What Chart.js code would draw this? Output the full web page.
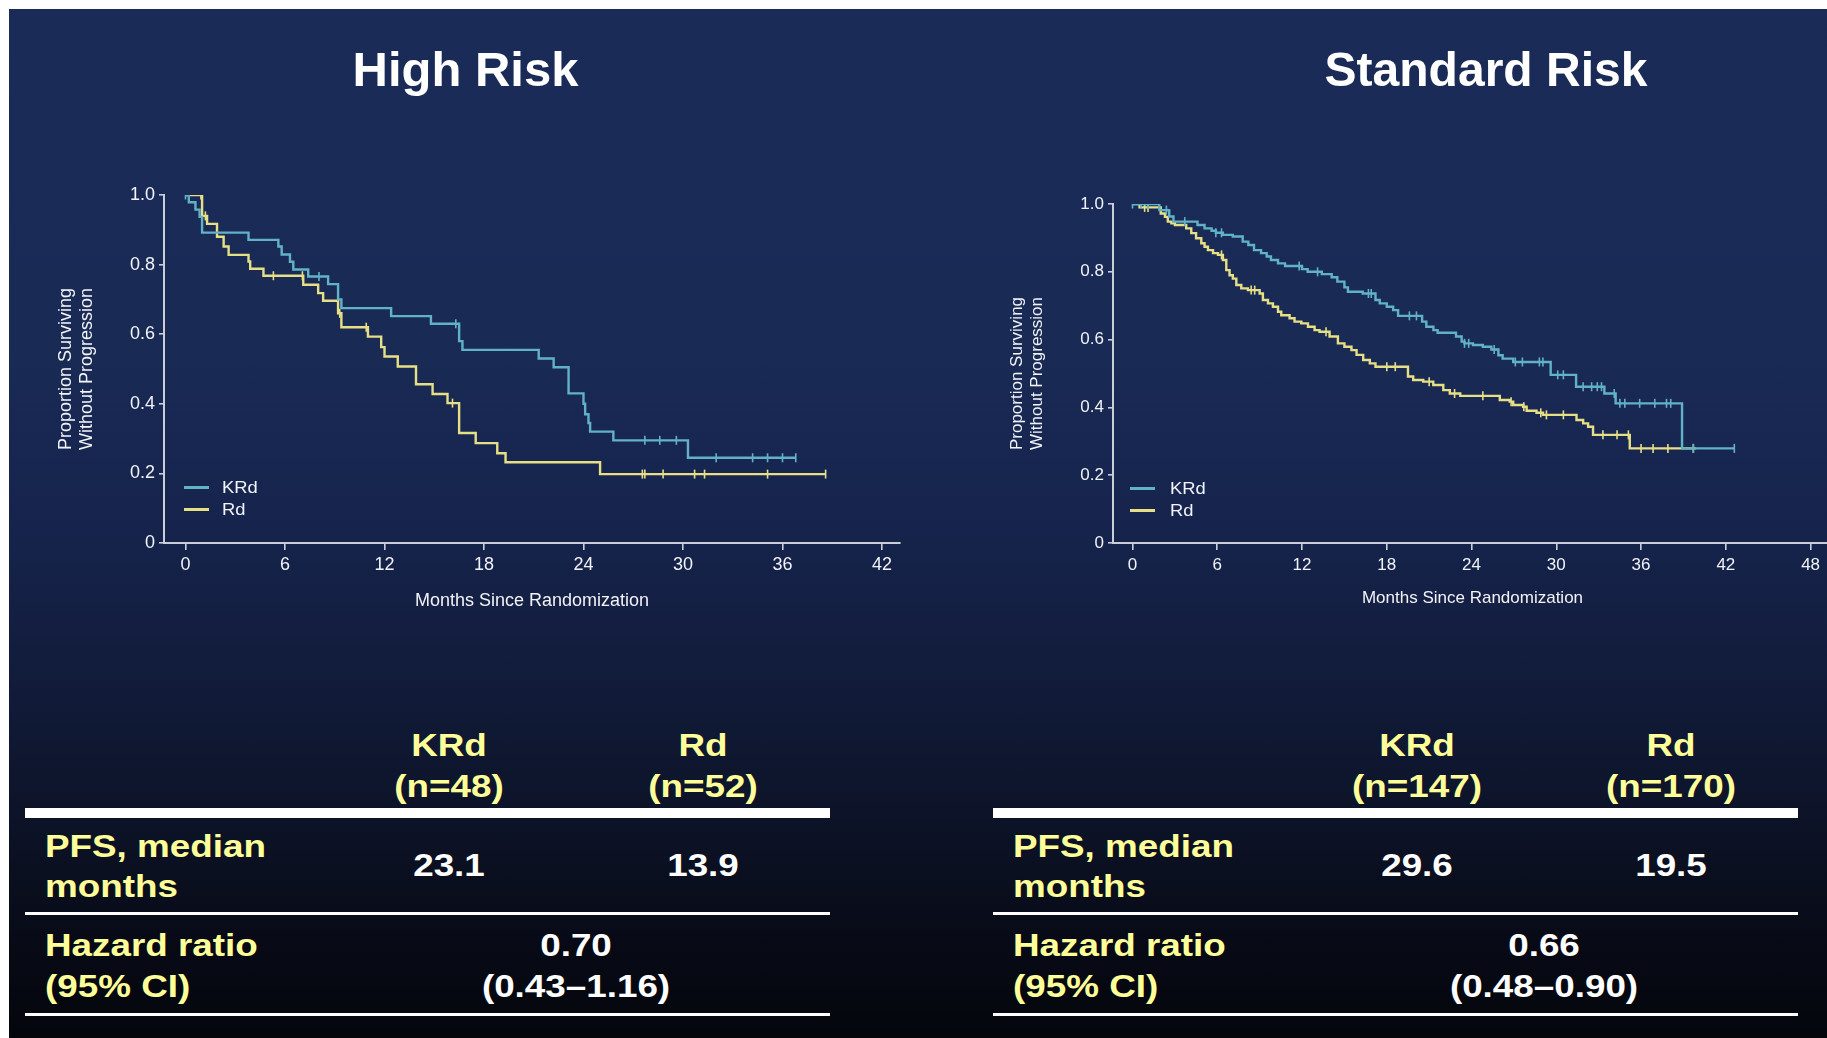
<!DOCTYPE html>
<html>
<head>
<meta charset="utf-8">
<script src="https://cdn.jsdelivr.net/npm/chart.js@4.4.1/dist/chart.umd.min.js"></script>
<style>
  html, body { margin: 0; padding: 0; width: 1827px; height: 1038px; overflow: hidden; background: #ffffff; }
  #slide { position: absolute; left: 9px; top: 9px; width: 1818px; height: 1029px;
    background: linear-gradient(to bottom, #1b2b58 0%, #192a55 34%, #16244d 50%, #121c3c 64%, #0d1429 78%, #080b17 90%, #04060c 100%); }
  .txt { position: absolute; font-family: "Liberation Sans", Arial, sans-serif; white-space: nowrap; line-height: 1; }
  .rule { position: absolute; background: #ffffff; }
  canvas { position: absolute; }
</style>
</head>
<body>
<div id="slide"></div>
<canvas id="kmHigh" width="880" height="470" style="left:40px;top:150px;"></canvas>
<canvas id="kmStd" width="850" height="470" style="left:990px;top:150px;"></canvas>
<div id="overlay"></div>
<script>
// ---- Kaplan–Meier curves: months since randomization / proportion progression-free ----
// High risk, KRd
const highKRdT = [0, 0.2, 0.6, 0.85, 1.0, 3.8, 5.6, 5.8, 6.3, 6.5, 7.4, 8.6, 9.2, 9.4, 12.4, 14.8, 16.5, 16.7, 21.3, 22.2, 23.1, 24.0, 24.1, 24.3, 24.4, 25.8, 30.3, 36.8];
const highKRdS = [1.0, 0.979, 0.958, 0.937, 0.892, 0.871, 0.852, 0.829, 0.808, 0.786, 0.766, 0.744, 0.70, 0.675, 0.652, 0.63, 0.58, 0.555, 0.53, 0.505, 0.43, 0.40, 0.37, 0.345, 0.32, 0.295, 0.245, 0.245];
const highKRdCensor = [0, 8.05, 16.3, 27.7, 28.6, 29.6, 32.0, 34.2, 35.1, 36.0, 36.8];
// High risk, Rd
const highRdT = [0, 1.0, 1.3, 1.9, 2.3, 2.6, 3.8, 3.9, 4.7, 7.1, 8.0, 8.3, 9.2, 9.4, 11.0, 11.8, 12.0, 12.8, 13.9, 14.9, 15.8, 16.5, 17.5, 18.8, 19.3, 25.0, 38.6];
const highRdS = [1.0, 0.94, 0.917, 0.88, 0.852, 0.828, 0.809, 0.788, 0.768, 0.742, 0.718, 0.696, 0.66, 0.62, 0.593, 0.563, 0.536, 0.507, 0.456, 0.428, 0.402, 0.316, 0.287, 0.258, 0.232, 0.198, 0.198];
const highRdCensor = [0.93, 1.2, 5.3, 7.05, 9.3, 10.9, 16.1, 27.55, 27.7, 28.8, 30.7, 31.3, 35.1, 38.6];
// Standard risk, KRd
const stdKRdT = [0, 1.9, 2.6, 2.9, 4.6, 5.1, 5.6, 5.9, 6.4, 7.1, 7.8, 8.2, 8.6, 9.1, 9.5, 9.8, 10.3, 10.8, 12.0, 12.4, 13.4, 14.1, 14.5, 15.0, 15.25, 16.3, 17.2, 17.5, 18.0, 18.45, 18.8, 20.5, 20.8, 21.3, 21.6, 22.9, 23.3, 23.5, 24.1, 24.8, 25.4, 25.9, 26.2, 26.95, 29.6, 31.4, 33.4, 34.2, 38.9, 42.6];
const stdKRdS = [1.0, 0.982, 0.963, 0.948, 0.938, 0.928, 0.921, 0.915, 0.909, 0.904, 0.889, 0.879, 0.864, 0.855, 0.845, 0.835, 0.825, 0.817, 0.808, 0.80, 0.793, 0.784, 0.771, 0.754, 0.741, 0.736, 0.717, 0.707, 0.697, 0.687, 0.670, 0.653, 0.638, 0.628, 0.620, 0.609, 0.594, 0.589, 0.584, 0.579, 0.571, 0.554, 0.544, 0.534, 0.496, 0.461, 0.441, 0.412, 0.279, 0.279];
const stdKRdCensor = [0, 0.6, 1.1, 2.4, 3.7, 5.9, 6.3, 11.8, 13.1, 16.7, 16.9, 19.6, 20.1, 23.5, 23.8, 25.6, 27.1, 27.6, 28.8, 29.05, 30.1, 30.5, 31.9, 32.5, 32.9, 33.2, 34.1, 34.5, 34.85, 35.9, 36.97, 37.8, 38.1, 39.7, 42.6];
// Standard risk, Rd
const stdRdT = [0, 0.5, 2.0, 2.3, 2.5, 2.75, 3.0, 3.8, 4.16, 4.5, 4.87, 5.1, 5.34, 5.7, 6.05, 6.4, 6.64, 6.87, 7.1, 7.35, 7.7, 8.17, 9.0, 9.23, 9.59, 9.94, 10.3, 10.53, 11.12, 11.47, 11.95, 12.42, 12.89, 13.24, 13.95, 14.54, 15.0, 15.5, 15.86, 16.33, 16.8, 17.2, 19.5, 19.87, 20.58, 21.29, 22.0, 22.46, 23.2, 26.0, 26.7, 26.95, 27.65, 27.9, 28.6, 29.06, 31.43, 31.9, 32.25, 32.6, 35.2, 39.9];
const stdRdS = [1.0, 0.99, 0.972, 0.962, 0.948, 0.943, 0.938, 0.928, 0.914, 0.899, 0.884, 0.874, 0.864, 0.855, 0.85, 0.835, 0.805, 0.79, 0.78, 0.761, 0.751, 0.746, 0.736, 0.717, 0.707, 0.697, 0.682, 0.672, 0.663, 0.653, 0.648, 0.638, 0.628, 0.623, 0.609, 0.589, 0.579, 0.569, 0.555, 0.54, 0.53, 0.52, 0.491, 0.481, 0.476, 0.466, 0.451, 0.441, 0.434, 0.422, 0.417, 0.407, 0.402, 0.39, 0.384, 0.378, 0.363, 0.353, 0.343, 0.319, 0.279, 0.279];
const stdRdCensor = [0.86, 1.1, 6.3, 8.4, 8.65, 13.7, 18.0, 18.6, 21.0, 22.8, 24.8, 26.8, 27.7, 28.9, 29.3, 30.5, 33.3, 34.3, 35.1, 36.0, 36.85, 37.9, 39.7];

// ---- axis ticks and text ----
const xTicksHigh = [0, 6, 12, 18, 24, 30, 36, 42];
const xTicksStd = [0, 6, 12, 18, 24, 30, 36, 42, 48];
const yTicks = [0, 0.2, 0.4, 0.6, 0.8, 1.0];
const panelTitles = ['High Risk', 'Standard Risk'];
const armNames = ['KRd', 'Rd'];
const xAxisTitle = 'Months Since Randomization';
const yAxisTitle = ['Proportion Surviving', 'Without Progression'];

// ---- summary tables ----
const rowLabels = [['PFS, median', 'months'], ['Hazard ratio', '(95% CI)']];
const highN = ['(n=48)', '(n=52)'];
const stdN = ['(n=147)', '(n=170)'];
const highMedian = ['23.1', '13.9'];
const stdMedian = ['29.6', '19.5'];
const highHR = ['0.70', '(0.43–1.16)'];
const stdHR = ['0.66', '(0.48–0.90)'];

const TEAL = '#62b2c6';
const YELLOW = '#e6df86';
const AXIS = '#c9ced9';
const LABEL = '#f2f3f6';
const FONT = '"Liberation Sans", Arial, sans-serif';
Chart.defaults.font.family = FONT;

function survAt(T, S, t) {
  let v = S[0];
  for (let i = 0; i < T.length; i++) { if (T[i] <= t) v = S[i]; }
  return v;
}

function kmChart(id, o) {
  const datasets = [];
  o.arms.forEach(a => {
    datasets.push({
      label: a.name,
      data: a.T.map((t, i) => ({ x: t, y: a.S[i] })),
      borderColor: a.color, borderWidth: 2.4, pointRadius: 0,
      stepped: 'before', fill: false
    });
    datasets.push({
      label: a.name + ' censored',
      data: a.C.map(t => ({ x: t, y: survAt(a.T, a.S, t) })),
      showLine: false, borderColor: a.color, backgroundColor: a.color,
      pointStyle: 'line', rotation: 90, pointRadius: 4.5, borderWidth: 1.6
    });
  });
  const tickFont = { family: FONT, size: o.fs, lineHeight: o.lh };
  return new Chart(document.getElementById(id), {
    type: 'line',
    data: { datasets },
    options: {
      responsive: false, animation: false, devicePixelRatio: 1, events: [],
      layout: { padding: o.pad },
      plugins: { legend: { display: false }, tooltip: { enabled: false } },
      scales: {
        x: {
          type: 'linear', min: o.xMin, max: o.xMax,
          afterBuildTicks: s => { s.ticks = o.xTicks.map(v => ({ value: v })); },
          afterFit: s => { s.height = o.xH; },
          grid: { drawOnChartArea: false, drawTicks: true, tickLength: 7, color: AXIS, lineWidth: 1.6 },
          border: { display: true, color: AXIS, width: 2 },
          ticks: { color: LABEL, font: tickFont, padding: o.xTickPad, maxRotation: 0, autoSkip: false },
          title: { display: true, text: xAxisTitle, color: LABEL, font: tickFont, padding: { top: 0, bottom: o.xTitlePad } }
        },
        y: {
          type: 'linear', min: 0, max: 1,
          afterBuildTicks: s => { s.ticks = yTicks.map(v => ({ value: v })); },
          afterFit: s => { s.width = o.yW; },
          grid: { drawOnChartArea: false, drawTicks: true, tickLength: 5, color: AXIS, lineWidth: 1.6 },
          border: { display: true, color: AXIS, width: 2 },
          ticks: { color: LABEL, font: tickFont, padding: 4, callback: v => (v === 0 ? '0' : v.toFixed(1)) },
          title: { display: true, text: yAxisTitle, color: LABEL, font: tickFont, padding: { top: o.yTitlePad, bottom: 0 } }
        }
      }
    }
  });
}

kmChart('kmHigh', {
  arms: [
    { name: armNames[0], T: highKRdT, S: highKRdS, C: highKRdCensor, color: TEAL },
    { name: armNames[1], T: highRdT, S: highRdS, C: highRdCensor, color: YELLOW }
  ],
  xTicks: xTicksHigh, xMin: -1.2965, xMax: 43.086,
  pad: { top: 45, right: 20, left: 0, bottom: 0 },
  yW: 124, xH: 77, fs: 18, lh: 1.17, xTickPad: 4.5, xTitlePad: 8.5, yTitlePad: 15.5
});

kmChart('kmStd', {
  arms: [
    { name: armNames[0], T: stdKRdT, S: stdKRdS, C: stdKRdCensor, color: TEAL },
    { name: armNames[1], T: stdRdT, S: stdRdS, C: stdRdCensor, color: YELLOW }
  ],
  xTicks: xTicksStd, xMin: -1.380, xMax: 49.515,
  pad: { top: 54, right: 8, left: 0, bottom: 0 },
  yW: 123, xH: 77, fs: 17, lh: 1.2, xTickPad: 4.8, xTitlePad: 11.8, yTitlePad: 16.8
});

// ---- text overlays: panel titles, legends and summary tables ----
const overlay = document.getElementById('overlay');
function text(str, x, baseline, size, color, opts) {
  opts = opts || {};
  const d = document.createElement('div');
  d.className = 'txt';
  d.textContent = str;
  d.style.fontSize = size + 'px';
  d.style.color = color;
  d.style.fontWeight = opts.bold ? 'bold' : 'normal';
  d.style.left = x + 'px';
  d.style.top = (baseline - 0.8465 * size) + 'px';
  const sx = opts.sx || 1;
  if (opts.center) {
    d.style.transform = 'translateX(-50%) scaleX(' + sx + ')';
  } else {
    d.style.transformOrigin = '0 0';
    d.style.transform = 'scaleX(' + sx + ')';
  }
  overlay.appendChild(d);
}
function rule(x, y, w, h) {
  const d = document.createElement('div');
  d.className = 'rule';
  Object.assign(d.style, { left: x + 'px', top: y + 'px', width: w + 'px', height: h + 'px' });
  overlay.appendChild(d);
}
function swatch(x, y, w, color) {
  const d = document.createElement('div');
  Object.assign(d.style, { position: 'absolute', left: x + 'px', top: (y - 1.5) + 'px', width: w + 'px', height: '3px', background: color });
  overlay.appendChild(d);
}

// panel titles
text(panelTitles[0], 465.5, 86, 49, '#ffffff', { bold: true, center: true });
text(panelTitles[1], 1486, 86, 49, '#ffffff', { bold: true, center: true, sx: 0.98 });

// legends inside each plot
function legend(lineX, textX, y1, y2, size) {
  swatch(lineX, y1, 25, TEAL);
  swatch(lineX, y2, 25, YELLOW);
  text(armNames[0], textX, y1 + 0.358 * size, size, LABEL, { sx: 1.08 });
  text(armNames[1], textX, y2 + 0.358 * size, size, LABEL, { sx: 1.08 });
}
legend(184, 222, 487.5, 509, 17);
legend(1130, 1170, 488.5, 510, 17);

// summary tables
const YEL_TXT = '#ffff99';
function table(dx, nLabels, medians, hr) {
  const c1 = 449 + dx, c2 = 703 + dx, cHR = 576 + dx, left = 45 + dx;
  const F = 32, SX = 1.15;
  text(armNames[0], c1, 756, F, YEL_TXT, { bold: true, center: true, sx: SX });
  text(armNames[1], c2, 756, F, YEL_TXT, { bold: true, center: true, sx: SX });
  text(nLabels[0], c1, 797, F, YEL_TXT, { bold: true, center: true, sx: SX });
  text(nLabels[1], c2, 797, F, YEL_TXT, { bold: true, center: true, sx: SX });
  rule(25 + dx, 808, 805, 10);
  text(rowLabels[0][0], left, 857, F, YEL_TXT, { bold: true, sx: SX });
  text(rowLabels[0][1], left, 897, F, YEL_TXT, { bold: true, sx: SX });
  text(medians[0], c1, 876, F, '#ffffff', { bold: true, center: true, sx: SX });
  text(medians[1], c2, 876, F, '#ffffff', { bold: true, center: true, sx: SX });
  rule(25 + dx, 912, 805, 3);
  text(rowLabels[1][0], left, 956, F, YEL_TXT, { bold: true, sx: SX });
  text(rowLabels[1][1], left, 997, F, YEL_TXT, { bold: true, sx: SX });
  text(hr[0], cHR, 956, F, '#ffffff', { bold: true, center: true, sx: SX });
  text(hr[1], cHR, 997, F, '#ffffff', { bold: true, center: true, sx: SX });
  rule(25 + dx, 1013, 805, 3);
}
table(0, highN, highMedian, highHR);
table(968, stdN, stdMedian, stdHR);
</script>
</body>
</html>
